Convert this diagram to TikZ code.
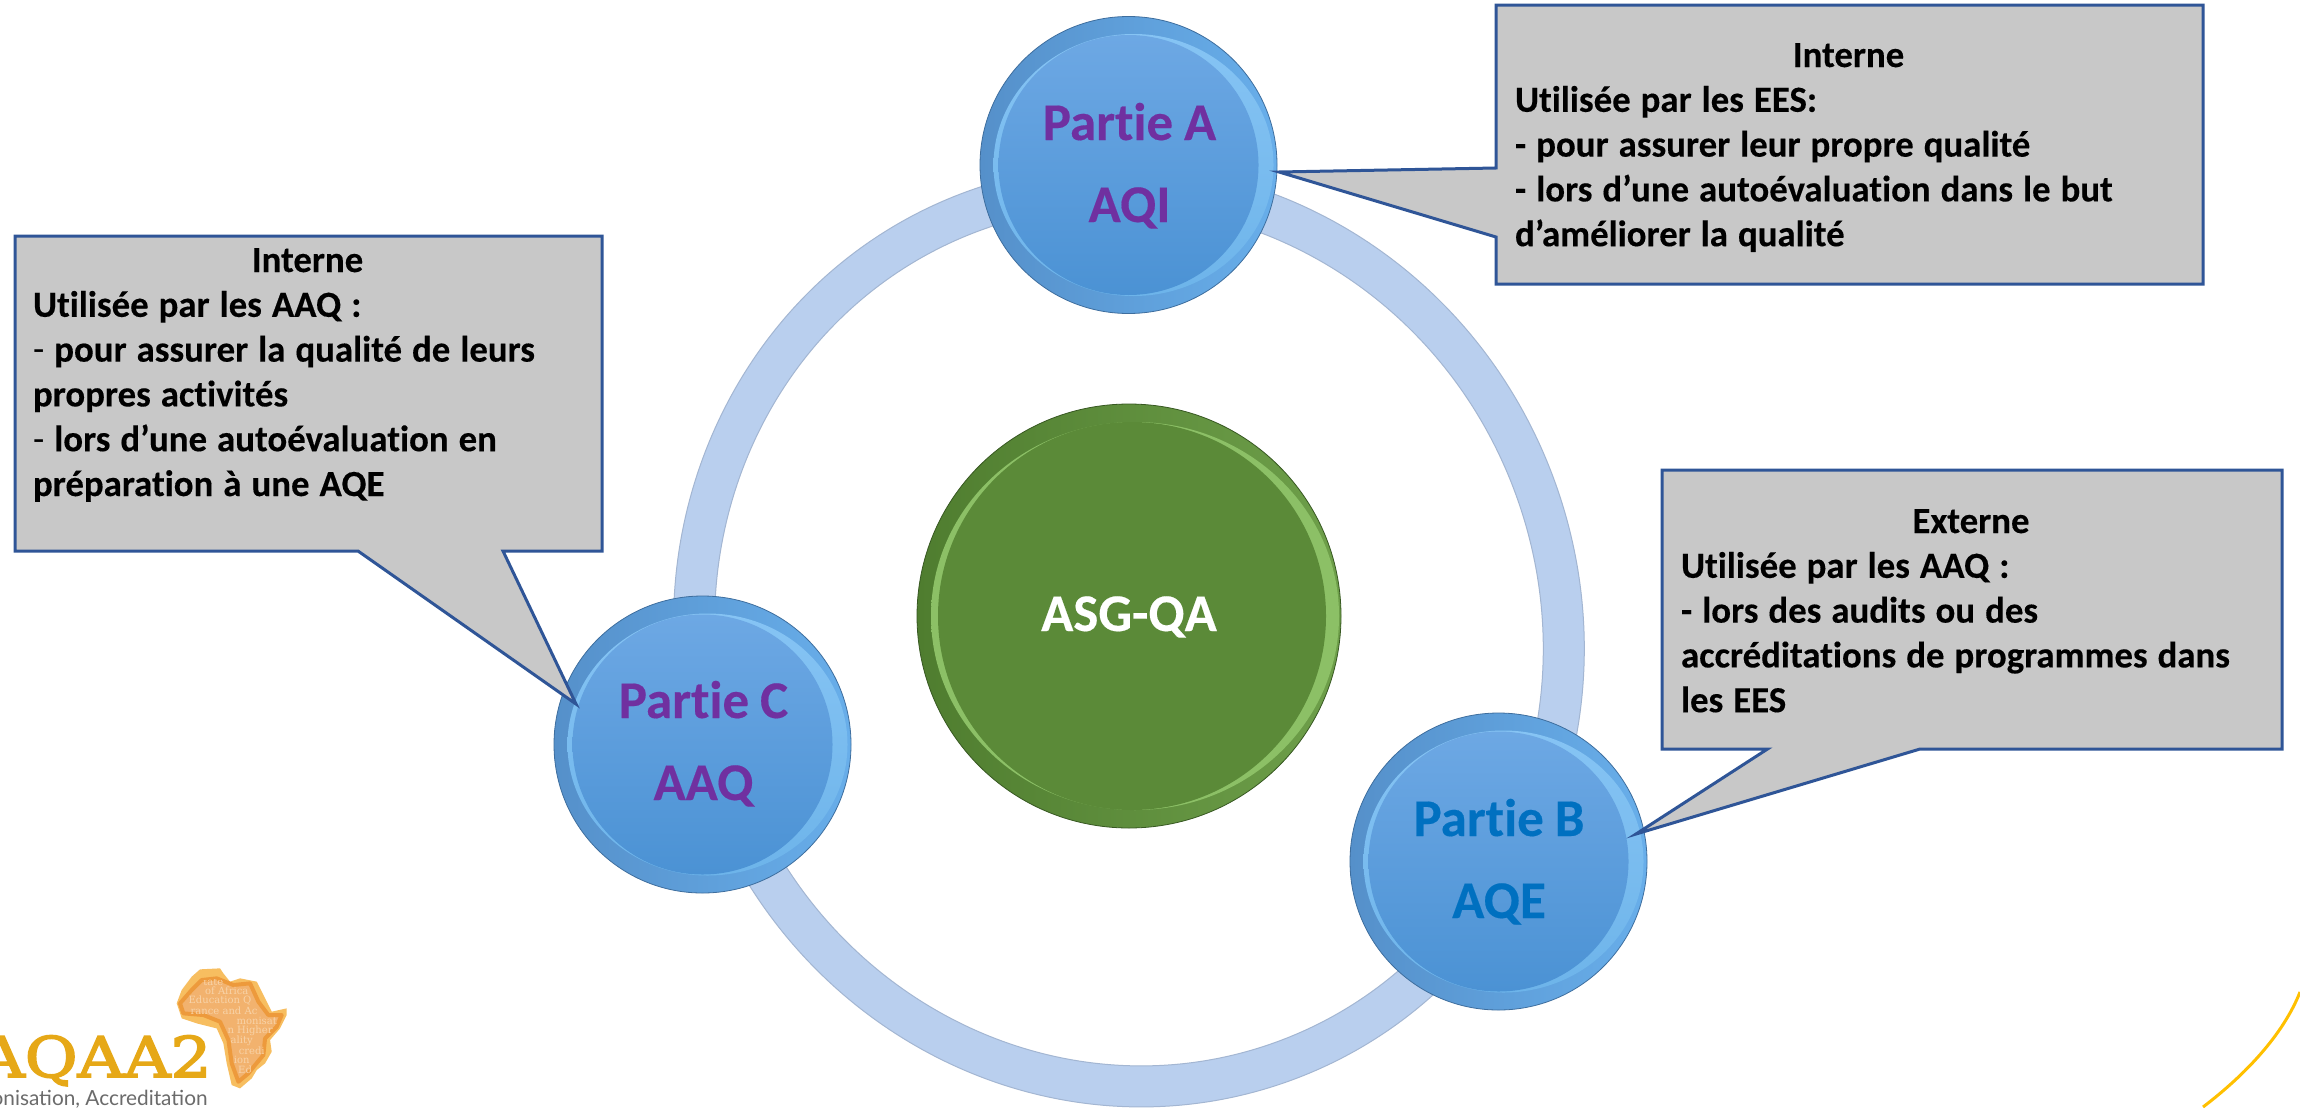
\documentclass[tikz,border=0pt]{standalone}
\usepackage{fontspec}
\setmainfont[Ligatures={NoCommon}]{Carlito}
\newfontface\cbold[Ligatures={NoCommon},FakeBold=0.3]{Carlito Bold}
\newfontface\creg[Ligatures={NoCommon}]{Carlito}
\newfontfamily\logofont[FakeBold=3,FakeStretch=1.15]{DejaVu Serif}
\newfontfamily\tagfont{Lato}
\newfontfamily\mapfont{DejaVu Serif}
\newcommand{\boxgap}{\spaceskip=5pt\relax}
\newcommand{\ballgap}{\spaceskip=5.5pt\relax}
\definecolor{ringfill}{HTML}{B9CFEE}
\definecolor{ringedge}{HTML}{A3B6D2}
\definecolor{boxfill}{HTML}{C8C8C8}
\definecolor{boxedge}{HTML}{2F5597}
\definecolor{partpurple}{HTML}{7030A0}
\definecolor{partblue}{HTML}{0070C0}
\definecolor{gold}{HTML}{E6A817}
\definecolor{curvegold}{HTML}{FFC000}
\definecolor{rimleft}{HTML}{5590CA}
\definecolor{rimright}{HTML}{68AEEA}
\definecolor{rimedge}{HTML}{3E6E9E}
\definecolor{crestop}{HTML}{86C4F4}
\definecolor{cresmid}{HTML}{A8ECFF}
\definecolor{cresbot}{HTML}{6DB4EA}
\definecolor{facetop}{HTML}{6DA8E4}
\definecolor{facemid}{HTML}{5AA0E3}
\definecolor{facebot}{HTML}{4B92D4}
\definecolor{greenleft}{HTML}{4F7D2F}
\definecolor{greenright}{HTML}{6E9F4A}
\definecolor{grcrestop}{HTML}{8CC066}
\definecolor{grcresmid}{HTML}{B0E486}
\definecolor{greenface}{HTML}{5B8A38}
\definecolor{afrlight}{HTML}{F7BE60}
\definecolor{afrband}{HTML}{ED9A3C}
\definecolor{afrface}{HTML}{F2B26E}
\definecolor{afrtext}{HTML}{F8D3A8}
\tikzset{
  x=0.5pt,y=-0.5pt,
  calloutshape/.style={draw=boxedge,fill=boxfill,line width=1.5pt,line join=miter,miter limit=20},
  callouttext/.style={anchor=base west,inner sep=0pt,outer sep=0pt,
    execute at begin node=\raggedright\boxgap,
    font=\fontsize{18.4}{22.4}\cbold,text=black},
  rimblue/.style={circle,minimum size=148.5pt,inner sep=0pt,draw=rimedge,line width=.4pt,
    left color=rimleft,right color=rimright},
  balltext/.style={anchor=base,inner sep=0pt,outer sep=0pt,text width=140pt,
    execute at begin node=\centering\ballgap,
    font=\fontsize{26.5}{41}\cbold},
}
\newcommand{\bluedisc}[3]{%
  \node[rimblue] (#1) at (#2,#3) {};
  \shade[top color=crestop,middle color=cresmid,bottom color=cresbot]
    (#1.center) ++(2.5pt,0pt) ellipse [x radius=70pt,y radius=65.5pt];
  \shade[top color=facetop,middle color=facemid,bottom color=facebot]
    (#1.center) circle [radius=65pt];
}
\begin{document}
\begin{tikzpicture}
\clip (0,0) rectangle (2300,1108);
\useasboundingbox (0,0) rectangle (2300,1108);
\fill[white] (0,0) rectangle (2300,1108);

% ring
\coordinate (rc) at (1129,636);
\path[fill=ringfill,even odd rule,draw=ringedge,line width=.5pt,rotate around={19.5:(rc)}]
  (rc) ellipse [x radius=226.5pt,y radius=236.5pt]
  (rc) ellipse [x radius=206pt,y radius=216pt];

% centre disc
\node[circle,minimum size=212pt,inner sep=0pt,draw=greenleft!70!black,line width=.4pt,
  left color=greenleft,right color=greenright] (core) at (1129,616) {};
\shade[top color=grcrestop,middle color=grcresmid,bottom color=grcrestop]
  (core.center) ++(3pt,0pt) ellipse [x radius=102pt,y radius=97pt];
\fill[greenface] (core.center) ++(1.5pt,0pt) circle [radius=97pt];
\node[balltext,text=white] (coretext) at (1129,631) {ASG-QA};

% outer discs
\bluedisc{A}{1128.5}{165}
\bluedisc{B}{1498.5}{861.5}
\bluedisc{C}{702.5}{744.5}
\node[balltext,text=partpurple] (Atext) at (1129.5,140) {Partie A\\AQI};
\node[balltext,text=partblue] (Btext) at (1499,836) {Partie B\\AQE};
\node[balltext,text=partpurple] (Ctext) at (703.5,718) {Partie C\\AAQ};

% callouts
\coordinate (tipA) at (1279,172);
\coordinate (tipB) at (1636,834);
\coordinate (tipC) at (576,704);
\draw[calloutshape] (1496,5) -- (2203,5) -- (2203,284) -- (1496,284) -- (1496,237)
  -- (tipA) -- (1496,168) -- cycle;
\draw[calloutshape] (1662,470) -- (2282,470) -- (2282,749) -- (1920,749)
  -- (tipB) -- (1767.5,749) -- (1662,749) -- cycle;
\draw[calloutshape] (15,236) -- (602,236) -- (602,551) -- (503,551)
  -- (tipC) -- (358,551) -- (15,551) -- cycle;

\node[callouttext,text width=333.5pt] (textA) at (1515,67) {\makebox[\linewidth][c]{Interne}\\
Utilisée par les EES:\\
- pour assurer leur propre qualité\\
- lors d’une autoévaluation dans le but\\
d’améliorer la qualité};
\node[callouttext,text width=290pt] (textB) at (1681,533) {\makebox[\linewidth][c]{Externe}\\
Utilisée par les AAQ :\\
- lors des audits ou des\\
accréditations de programmes dans\\
les EES};
\node[callouttext,text width=274.5pt] (textC) at (33,272) {\makebox[\linewidth][c]{Interne}\\
Utilisée par les AAQ :\\
{\creg -} pour assurer la qualité de leurs\\
propres activités\\
{\creg -} lors d’une autoévaluation en\\
préparation à une AQE};

% corner curve
\coordinate (curveA) at (2300,992);
\coordinate (curveB) at (2203,1107);
\draw[curvegold,line width=1.5pt] (curveA) .. controls (2283,1035) and (2245,1075) .. (curveB);

% logo
\begin{scope}[shift={(0,940)},x=0.1667pt,y=-0.1667pt]
  \fill[afrlight] (530,190) -- (545,150) -- (575,110) -- (600,88) -- (660,85) -- (670,100)
    -- (690,125) -- (720,115) -- (770,125) -- (790,165) -- (815,215) -- (860,205) -- (860,225)
    -- (840,265) -- (810,300) -- (815,335) -- (795,370) -- (770,390) -- (755,415) -- (720,445)
    -- (695,435) -- (680,370) -- (670,310) -- (650,265) -- (590,250) -- (545,235) -- cycle;
  \path[fill=afrface,draw=afrband,line width=2pt,line join=round] (540,190) -- (575,150) -- (605,120)
    -- (650,115) -- (700,135) -- (750,130) -- (775,185) -- (805,225) -- (845,225)
    -- (830,260) -- (795,295) -- (790,345) -- (765,375) -- (745,400) -- (715,425)
    -- (695,370) -- (685,300) -- (660,245) -- (610,225) -- (550,220) -- cycle;
  \begin{scope}
    \clip (540,190) -- (575,150) -- (605,120)
    -- (650,115) -- (700,135) -- (750,130) -- (775,185) -- (805,225) -- (845,225)
    -- (830,260) -- (795,295) -- (790,345) -- (765,375) -- (745,400) -- (715,425)
    -- (695,370) -- (685,300) -- (660,245) -- (610,225) -- (550,220) -- cycle;
    \foreach \nm/\tx/\px/\py in {a/tate/640/125, b/of Africa/680/152, c/Education Q/660/182,
      d/rance and Ac/672/212, e/monisat/770/242, f/n Higher/750/272, g/ality/725/303,
      h/credi/755/332, i/ion/725/360, j/Ed/735/390}
      {\node[inner sep=0pt,text=afrtext,font=\fontsize{5}{6}\mapfont] (map\nm) at (\px,\py) {\tx};}
  \end{scope}
\end{scope}
\node[anchor=base east,inner sep=0pt,text=gold,font=\fontsize{28}{30}\logofont] (logoname) at (212,1077) {AQAA2};
\node[anchor=base east,inner sep=0pt,text=black!58,font=\fontsize{10.4}{13}\tagfont] (logotag) at (208,1105) {onisation, Accreditation};
\end{tikzpicture}
\end{document}
